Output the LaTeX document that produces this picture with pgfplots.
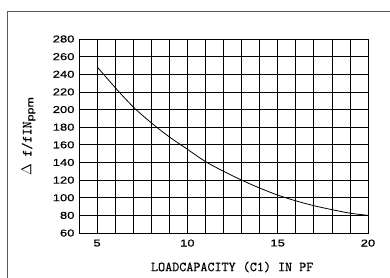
\documentclass[border=0pt]{standalone}
\usepackage{fontspec}
\setmainfont{Liberation Sans}
\newfontfamily\tickf[FakeStretch=1.3,FakeBold=0.6]{Liberation Sans}
\newfontfamily\monof[FakeBold=0.6]{Latin Modern Mono}
\usepackage{pgfplots}
\pgfplotsset{compat=1.18}
\begin{document}
\begin{tikzpicture}[x=1pt,y=1pt]
\useasboundingbox (0,0) rectangle (390,277);
\begin{scope}
\clip (0,0) rectangle (390,277);
\draw[line width=1pt, black!65] (7,-10) rectangle (400,266);
\end{scope}
\begin{axis}[
  at={(79pt,44pt)}, anchor=south west,
  scale only axis, width=289pt, height=194pt,
  xmin=4, xmax=20, ymin=60, ymax=280,
  xtick={5,10,15,20}, minor xtick={4,...,20},
  ytick={60,80,...,280},
  grid=both,
  major grid style={black, line width=0.7pt},
  minor grid style={black, line width=0.7pt},
  axis line style={black, line width=0.9pt},
  tick style={draw=none},
  /pgf/number format/assume math mode=true,
  ticklabel style={font=\tickf\fontsize{10}{12}\selectfont},
  xticklabel style={yshift=-3pt},
  yticklabel style={xshift=-1pt},
  xlabel={LOADCAPACITY (C1) IN PF},
  xlabel style={at={(axis description cs:0.53,-0.175)}, anchor=center, font=\monof\fontsize{13.7}{15}\selectfont},
  ylabel={$\Delta$\ f/fIN\textsubscript{\tickf ppm}},
  ylabel style={at={(axis description cs:-0.175,0.5)}, anchor=center, font=\monof\fontsize{13.7}{15}\selectfont},
]
\addplot[black, line width=0.8pt, smooth] coordinates {
(5,248.5) (6,225) (7,203) (8,185) (9,169) (10,155) (11,141) (12,130) (13,120) (14,111) (15,103) (16,96.5) (17,91) (18,86.5) (19,82.5) (20,80)
};
\end{axis}
\end{tikzpicture}
\end{document}
